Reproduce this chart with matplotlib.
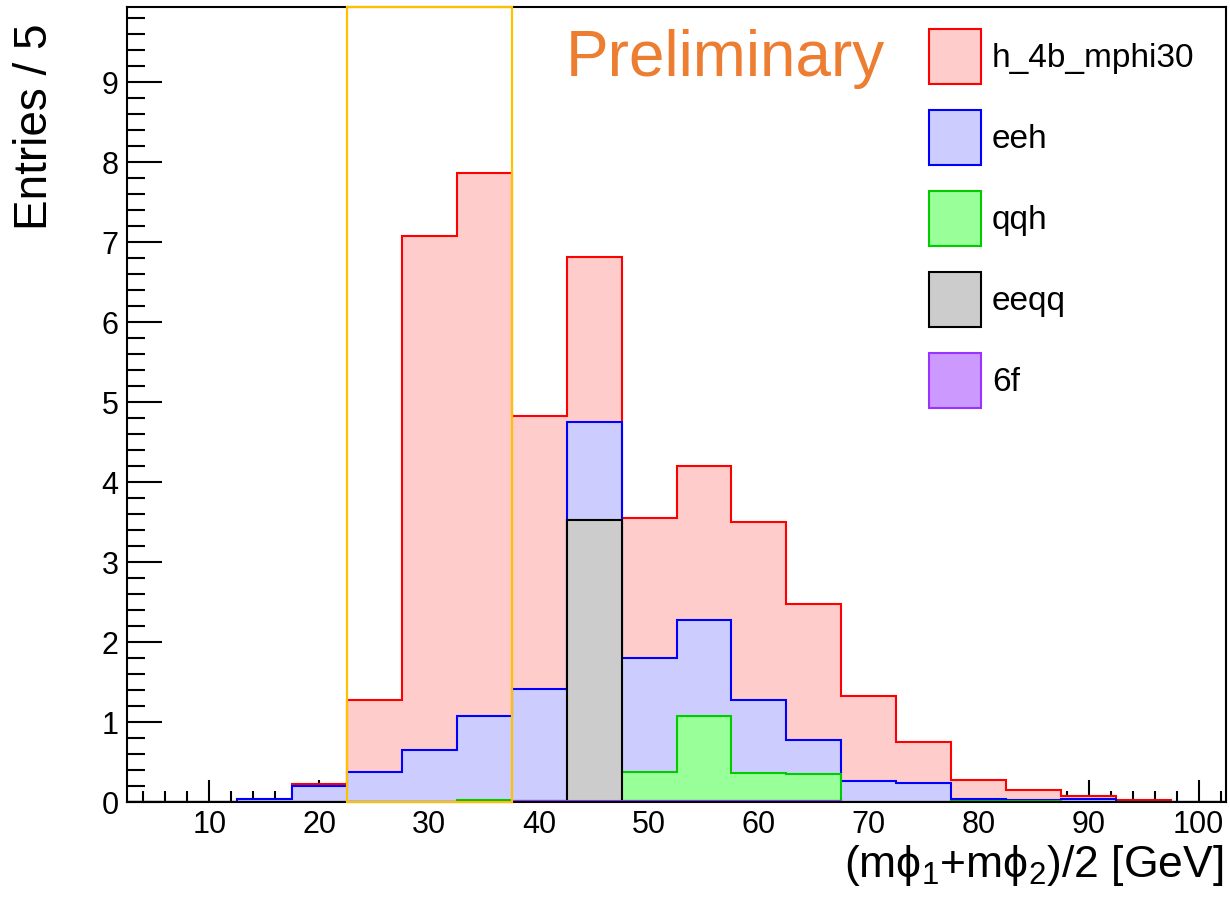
import numpy as np
import matplotlib
matplotlib.use('Agg')
import matplotlib.pyplot as plt
from matplotlib.patches import Patch, Rectangle
from matplotlib.ticker import MultipleLocator

plt.rcParams['font.family'] = ['Liberation Sans', 'DejaVu Sans']
plt.rcParams['mathtext.fontset'] = 'custom'
plt.rcParams['mathtext.rm'] = 'Liberation Sans'
plt.rcParams['mathtext.it'] = 'Liberation Sans:italic'

# bin edges (5 GeV bins, centred on 5, 10, ..., 100)
bin_edges = np.arange(2.5, 103, 5)

# per-sample contents, bins centred at 5, 10, ..., 100
sixf = [0, 0, 0, 0, 0, 0, 0, 0.01, 0.01, 0.01, 0.01, 0.01, 0.01, 0, 0, 0, 0, 0, 0, 0]
eeqq = [0, 0, 0, 0, 0, 0, 0, 0, 3.52, 0, 0, 0, 0, 0, 0, 0, 0, 0, 0, 0]
qqh = [0, 0, 0, 0, 0, 0, 0.02, 0, 0, 0.36, 1.07, 0.35, 0.34, 0, 0, 0.01, 0.01, 0, 0, 0]
eeh = [0, 0, 0.04, 0.20, 0.37, 0.65, 1.05, 1.40, 1.22, 1.43, 1.20, 0.92, 0.42, 0.26, 0.24, 0.03, 0.02, 0.04, 0, 0]
signal = [0, 0, 0, 0.03, 0.91, 6.43, 6.79, 3.41, 2.07, 1.75, 1.92, 2.22, 1.70, 1.06, 0.51, 0.23, 0.12, 0.03, 0.03, 0]

labels = ['h_4b_mphi30', 'eeh', 'qqh', 'eeqq', '6f']
face_colors = ['#ffcccc', '#ccccff', '#99ff99', '#cccccc', '#cc99ff']
edge_colors = ['#ff0000', '#0000ff', '#00cc00', '#000000', '#9933ff']

# stack: 6f at the bottom, signal on top
layers = [sixf, eeqq, qqh, eeh, signal]
cumulative = np.cumsum(np.array(layers), axis=0)
stack_tops = [cumulative[4], cumulative[3], cumulative[2], cumulative[1], cumulative[0]]

fig = plt.figure(figsize=(12.3, 8.98), dpi=100)
ax = fig.add_axes([127 / 1230, 1 - 802 / 898, 1099 / 1230, 795 / 898])

for i, top in enumerate(stack_tops):
    ax.stairs(top, bin_edges, baseline=0, fill=True, facecolor=face_colors[i],
              edgecolor='none', zorder=2 + i)
    ax.stairs(top, bin_edges, baseline=0, fill=False, color=edge_colors[i],
              linewidth=1.5, zorder=2 + i)

ax.set_xlim(2.5, 102.5)
ax.set_ylim(0, 9.94)

ax.xaxis.set_major_locator(MultipleLocator(10))
ax.xaxis.set_minor_locator(MultipleLocator(2))
ax.yaxis.set_major_locator(MultipleLocator(1))
ax.yaxis.set_minor_locator(MultipleLocator(0.2))
ax.tick_params(axis='x', which='major', direction='in', length=16, width=1.5,
               labelsize=22, pad=6)
ax.tick_params(axis='x', which='minor', direction='in', length=8, width=1.5)
ax.tick_params(axis='y', which='major', direction='in', length=25, width=1.5,
               labelsize=22, pad=6)
ax.tick_params(axis='y', which='minor', direction='in', length=13, width=1.5)
for s in ax.spines.values():
    s.set_linewidth(1.5)
    s.set_zorder(10)

# signal window box
ax.add_patch(Rectangle((22.5, 0), 15, 9.94, fill=False, edgecolor='#ffc000',
                       linewidth=1.6, zorder=20, clip_on=False))

ax.text(0.5446, 0.934, 'Preliminary', transform=ax.transAxes, fontsize=46,
        color='#ed7d31', ha='center', va='center')

handles = [Patch(facecolor=face_colors[i], edgecolor=edge_colors[i], linewidth=1.5)
           for i in range(5)]
fig.legend(handles, labels, loc='upper left',
           bbox_to_anchor=(929 / 1230, 1 - 29 / 898), frameon=False, fontsize=24,
           handlelength=1.56, handleheight=2.16, labelspacing=0.78,
           handletextpad=0.33, borderpad=0, borderaxespad=0)

fig.text(35 / 1230, 1 - 24 / 898, 'Entries / 5', rotation=90, fontsize=33,
         ha='center', va='top')
fig.text(1224 / 1230, 1 - 877 / 898,
         r'(m$\mathrm{\phi}_{1}$+m$\mathrm{\phi}_{2}$)/2 [GeV]', fontsize=32,
         ha='right', va='baseline')

fig.savefig('out.png', dpi=100)
